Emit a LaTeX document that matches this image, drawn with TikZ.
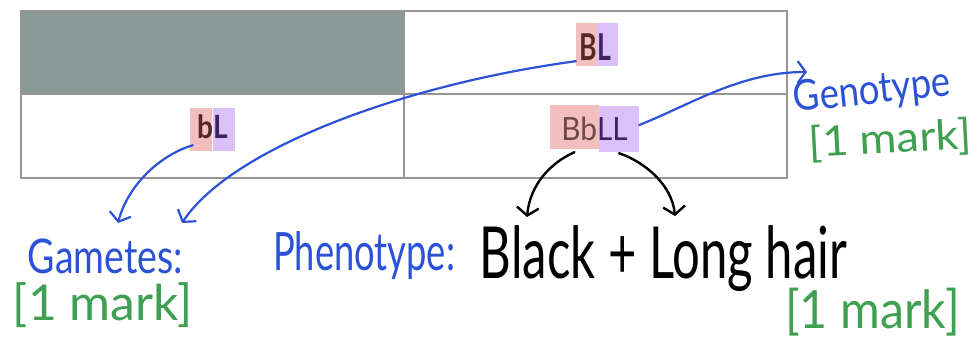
\documentclass[tikz,border=0pt]{standalone}
\usepackage{fontspec}
\setmainfont{Lato}
\usepackage{graphicx}
\usetikzlibrary{arrows.meta}
\definecolor{hblue}{RGB}{43,82,214}
\definecolor{hgreen}{RGB}{62,160,80}
\definecolor{cellgrey}{RGB}{139,154,151}
\definecolor{gridline}{RGB}{150,150,150}
\definecolor{pinkbg}{RGB}{242,190,190}
\definecolor{purplebg}{RGB}{220,192,248}
\definecolor{brownink}{RGB}{85,40,40}
\definecolor{purpleink}{RGB}{60,35,95}
\newcommand\celltxt[3]{\scalebox{#2}[1]{\fontsize{#1}{#1}\selectfont #3}}
\begin{document}
\begin{tikzpicture}[x=1pt,y=-1pt,
  grid/.style={draw=gridline,line width=1.8pt},
  pk/.style={fill=pinkbg,inner sep=0},
  pu/.style={fill=purplebg,inner sep=0},
  celltext/.style={inner sep=0},
  lbl/.style={inner sep=0,font=\fontsize{30}{30}\selectfont},
  barrow/.style={draw=hblue,line width=2.2pt,line cap=round,-{Straight Barb[length=8pt,width=22pt,line width=2.2pt]}},
  karrow/.style={draw=black,line width=2.4pt,line cap=round,-{Straight Barb[length=8pt,width=22pt,line width=2.4pt]}}]
\useasboundingbox (0,0) rectangle (979,338);
% table
\fill[cellgrey] (21,11) rectangle (404,94);
\draw[grid] (21,11) rectangle (787,178);
\draw[grid] (21,94) -- (787,94);
\draw[grid] (404,11) -- (404,178);
% BL
\node[pk,minimum width=21pt,minimum height=43pt] (BLB) at (586.5,44.5) {};
\node[pu,minimum width=21pt,minimum height=43pt] (BLL) at (607.5,44.5) {};
\node[celltext] (BLt) at (595.5,47) {\celltxt{37}{0.72}{\bfseries\textcolor{brownink}{B}\textcolor{purpleink}{L}}};
% bL
\node[pk,minimum width=22pt,minimum height=43pt] (bLb) at (201,129.5) {};
\node[pu,minimum width=22pt,minimum height=43pt] (bLL) at (224,129.5) {};
\node[celltext] (bLt) at (212.5,127) {\celltxt{32}{0.88}{\bfseries\textcolor{brownink}{b}\textcolor{purpleink}{L}}};
% BbLL
\node[pk,minimum width=49pt,minimum height=44pt] (Bb) at (574.5,127) {};
\node[pu,minimum width=40pt,minimum height=46pt] (LL) at (619,129) {};
\node[celltext] (BbLLt) at (594.5,129) {\celltxt{32}{0.93}{\textcolor{brownink!85}{Bb}\textcolor{purpleink}{LL}}};
% labels
\node[lbl,text=hblue] (gam) at (105.5,256) {\resizebox*{155pt}{35pt}{Gametes:}};
\node[lbl,text=hgreen] (mark1) at (103,305.5) {\resizebox*{180pt}{45pt}{[1 mark]}};
\node[lbl,text=hblue] (phen) at (364,256) {\resizebox*{182pt}{48pt}{Phenotype:}};
\node[lbl,text=black] (bl) at (663.5,258.5) {\resizebox*{367pt}{66pt}{Black + Long hair}};
\node[lbl,text=hgreen] (mark2) at (872.5,312) {\resizebox*{175pt}{48pt}{[1 mark]}};
\node[lbl,text=hblue,rotate=6] (gen) at (872,92) {\resizebox*{158pt}{38pt}{Genotype}};
\node[lbl,text=hgreen,rotate=3] (mark3) at (890,140) {\resizebox*{163pt}{38pt}{[1 mark]}};
% arrow endpoints
\coordinate (t1) at (118,223);
\coordinate (t2) at (182,223);
\coordinate (t3) at (807,72);
\coordinate (t4) at (527,217);
\coordinate (t5) at (675,216);
% blue arrows
\draw[barrow] ([xshift=3pt,yshift=6pt]bLb.south west) .. controls (160,155) and (128,185) .. (t1);
\draw[barrow] ([yshift=5pt]BLB.south west) .. controls (400,85) and (230,150) .. (t2);
\draw[barrow] ([yshift=4pt]LL.east) .. controls (690,105) and (740,72) .. (t3);
% black arrows
\draw[karrow] ([yshift=-3pt]Bb.south) .. controls (550,163) and (530,185) .. (t4);
\draw[karrow] ([yshift=-1pt]LL.south) .. controls (645,162) and (672,185) .. (t5);
\end{tikzpicture}
\end{document}
